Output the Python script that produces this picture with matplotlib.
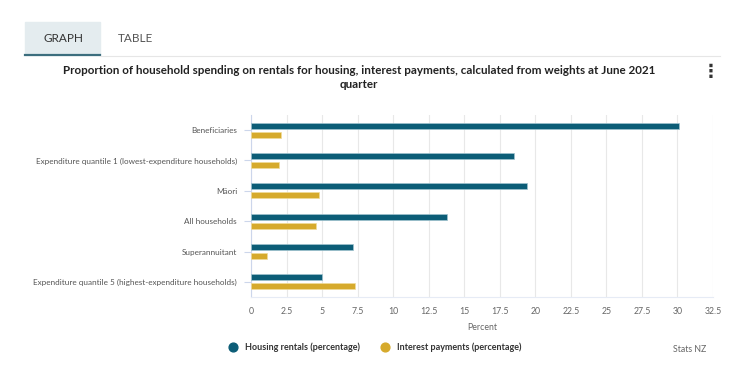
import numpy as np
import matplotlib.pyplot as plt
from matplotlib.patches import Rectangle

plt.rcParams["font.family"] = ["Lato", "DejaVu Sans"]

categories = [
    "Beneficiaries",
    "Expenditure quantile 1 (lowest-expenditure households)",
    "Māori",
    "All households",
    "Superannuitant",
    "Expenditure quantile 5 (highest-expenditure households)",
]
housing = [30.1, 18.5, 19.45, 13.8, 7.2, 5.0]
interest = [2.1, 2.0, 4.8, 4.55, 1.1, 7.3]
xticks = [0, 2.5, 5, 7.5, 10, 12.5, 15, 17.5, 20, 22.5, 25, 27.5, 30, 32.5]

c_house = "#0c5d77"
c_int = "#d6aa2c"

fig = plt.figure(figsize=(7.5, 3.74), dpi=100)

# tabs
fig.patches.append(Rectangle((25 / 750, 1 - 55 / 374), 75 / 750, 33 / 374,
                             transform=fig.transFigure, color="#e4ecef", zorder=0))
fig.add_artist(plt.Line2D([25 / 750, 100 / 750], [1 - 55 / 374] * 2,
                          transform=fig.transFigure, color="#3c6e7e", lw=1.6))
fig.add_artist(plt.Line2D([100 / 750, 720 / 750], [1 - 55.5 / 374] * 2,
                          transform=fig.transFigure, color="#e6e6e6", lw=0.8))
fig.text(63 / 750, 1 - 38 / 374, "GRAPH", ha="center", va="center", fontsize=8.5, color="#333333")
fig.text(135 / 750, 1 - 38 / 374, "TABLE", ha="center", va="center", fontsize=8.5, color="#555555")

fig.text(359 / 750, 1 - 77.5 / 374,
         "Proportion of household spending on rentals for housing, interest payments, calculated from weights at June 2021\nquarter",
         ha="center", va="center", fontsize=8.35, fontweight="bold", color="#222222", linespacing=1.3)
fig.text(711 / 750, 1 - 72 / 374, "⋮", ha="center", va="center", fontsize=13,
         fontweight="bold", color="#333333", family=["DejaVu Sans"])

ax = fig.add_axes([251 / 750, 1 - 297 / 374, 462 / 750, 182 / 374])
y = np.arange(len(categories))
h = 0.2
ax.barh(y - 0.15, housing, height=h, color=c_house, edgecolor="#9fc3cf", lw=0.5, zorder=3)
ax.barh(y + 0.15, interest, height=h, color=c_int, edgecolor="#f0dc9a", lw=0.5, zorder=3)
ax.set_ylim(len(categories) - 0.5, -0.5)
ax.set_xlim(0, 32.5)
ax.set_yticks(y)
ax.set_yticklabels(categories, fontsize=5.9, color="#555555")
ax.set_xticks(xticks)
ax.set_xticklabels([f"{t:g}" for t in xticks], fontsize=6.3, color="#666666")
ax.tick_params(axis="y", length=5, color="#ccd6eb", width=0.8, pad=5)
ax.tick_params(axis="x", length=0, pad=7)
ax.grid(axis="x", color="#e8e8e8", lw=0.8, zorder=0)
for s in ["top", "right"]:
    ax.spines[s].set_visible(False)
ax.spines["left"].set_color("#ccd6eb")
ax.spines["bottom"].set_color("#e6ebf5")
ax.set_xlabel("Percent", fontsize=6.3, color="#666666", labelpad=5)

# legend
ax.scatter([], [], s=40, color=c_house, label="Housing rentals (percentage)")
ax.scatter([], [], s=40, color=c_int, label="Interest payments (percentage)")
leg = fig.legend(*ax.get_legend_handles_labels(), loc="center", ncol=2,
                 bbox_to_anchor=(373 / 750, 1 - 347 / 374), frameon=False,
                 handletextpad=0.3, columnspacing=1.8, prop={"size": 6.5, "weight": "bold"})
for t in leg.get_texts():
    t.set_color("#333333")
fig.text(690 / 750, 1 - 349 / 374, "Stats NZ", ha="center", va="center", fontsize=6.3, color="#666666")

fig.savefig("out.png", dpi=100)
